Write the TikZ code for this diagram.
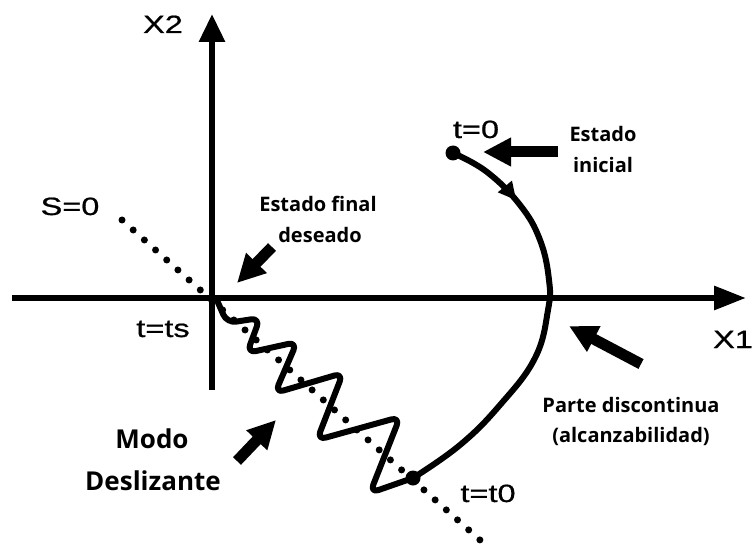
\documentclass[tikz,border=0pt]{standalone}
\usepackage{fontspec}
\setmainfont{Liberation Sans}
\newfontfamily\axfont{Liberation Sans}[FakeStretch=1.3,FakeBold=0.8]
\newfontfamily\labfont{Open Sans}
\usetikzlibrary{arrows.meta,decorations.markings}
\begin{document}
\begin{tikzpicture}[x=1pt,y=-1pt,
  axis/.style={line width=6pt},
  traj/.style={line width=6pt,line join=round,line cap=round},
  fat/.style={line width=11pt,-{Triangle[length=28pt,width=27pt]}},
  dotline/.style={line width=7pt,line cap=round,dash pattern=on 0pt off 15pt},
  ax/.style={font=\axfont\fontsize{25}{28}\selectfont,inner sep=0pt,anchor=base},
  bl/.style={font=\labfont\bfseries\fontsize{20}{24}\selectfont,inner sep=0pt,anchor=base},
  bigl/.style={font=\labfont\bfseries\fontsize{26}{30}\selectfont,inner sep=0pt,anchor=base},
  dot/.style={circle,fill,inner sep=0pt,minimum size=15pt}]
\useasboundingbox (0,0) rectangle (754,545);
% axes
\coordinate (x1s) at (12,298);
\coordinate (x1e) at (746,298);
\coordinate (x2s) at (212,390);
\coordinate (x2e) at (212,14);
\coordinate (O) at (216,298);
\draw[axis,-{Triangle[length=32pt,width=23pt]}] (x1s) -- (x1e);
\draw[axis,-{Triangle[length=28pt,width=25pt]}] (x2s) -- (x2e);
% sliding surface
\coordinate (sa) at (122,220);
\coordinate (sb) at (480,540);
\draw[dotline] (sa) -- (sb);
% states
\node[dot] (p0) at (453,153) {};
\node[dot] (pt0) at (413,478) {};
% reaching trajectory
\draw[traj,postaction={decorate},
  decoration={markings,mark=at position 0.19 with {\arrow{Triangle[length=18pt,width=17pt]}}}]
  plot[smooth,tension=0.7] coordinates {(p0.center) (487,172) (520,205) (540,240) (549,280) (548,310) (535,358) (500,405) (460,445) (pt0.center)};
% sliding mode zigzag
\draw[traj,rounded corners=9pt] (pt0.center) -- (370,493) -- (400,417) -- (317,440) -- (343,373)
  -- (275,393) -- (297,342) -- (247,353) -- (260,318) -- (227,323) -- (O);
% labels
\node[ax] (lx2) at (163,33) {X2};
\node[ax] (lx1) at (733,348) {X1};
\node[ax] (ls) at (70,215) {S=0};
\node[ax] (lts) at (163,337) {t=ts};
\node[ax] (lt0) at (476,138) {t=0};
\node[ax] (ltt0) at (488,502) {t=t0};
\node[bl] (ei1) at (603,142) {Estado};
\node[bl] (ei2) at (603,173) {inicial};
\node[bl] (ef1) at (318,212) {Estado final};
\node[bl] (ef2) at (320,242) {deseado};
\node[bl] (pd1) at (631,412) {Parte discontinua};
\node[bl] (pd2) at (631,442) {(alcanzabilidad)};
\node[bigl] (md1) at (152,448) {Modo};
\node[bigl] (md2) at (153,490) {Deslizante};
% fat arrows
\coordinate (a1s) at (558,152); \coordinate (a1e) at (483,152);
\coordinate (a2s) at (272,247); \coordinate (a2e) at (237,283);
\coordinate (a3s) at (237,461); \coordinate (a3e) at (276,420);
\coordinate (a4s) at (641,364); \coordinate (a4e) at (569,326);
\draw[fat] (a1s) -- (a1e);
\draw[fat] (a2s) -- (a2e);
\draw[fat] (a3s) -- (a3e);
\draw[fat] (a4s) -- (a4e);
\end{tikzpicture}
\end{document}
